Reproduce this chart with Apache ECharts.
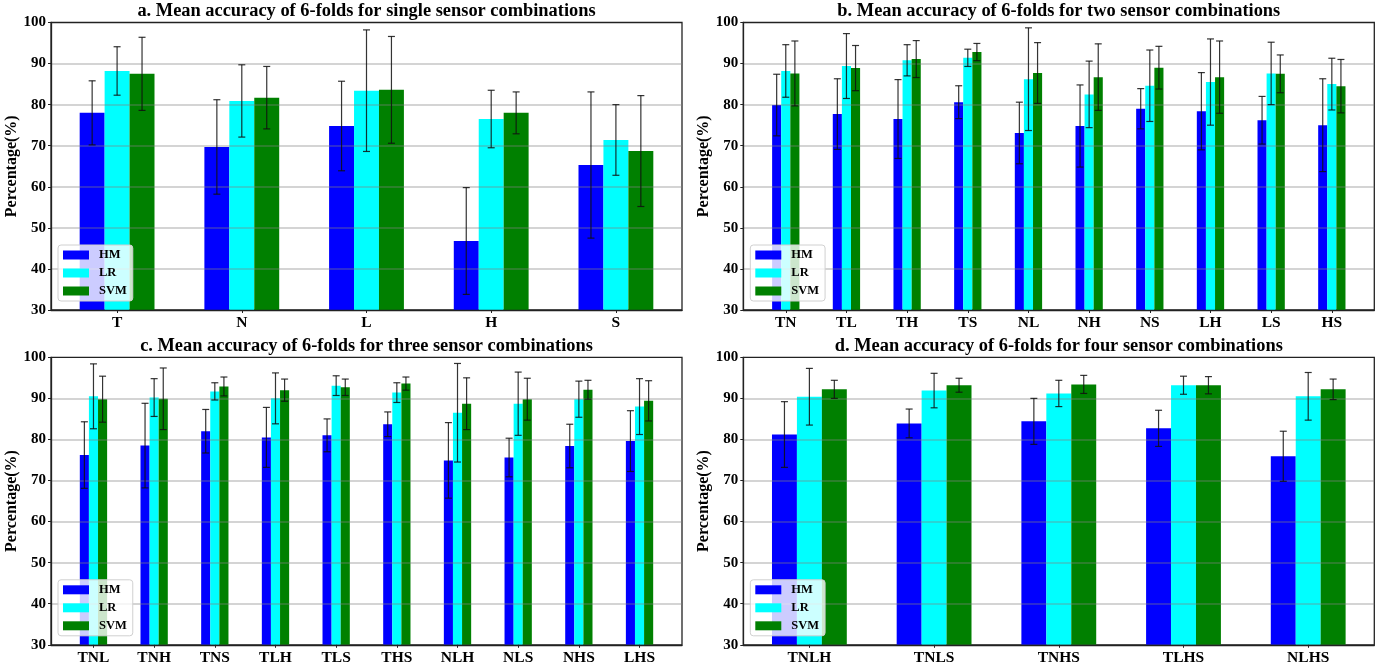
<!DOCTYPE html>
<html><head><meta charset="utf-8">
<script src="https://cdn.jsdelivr.net/npm/echarts@6/dist/echarts.min.js"></script>
<style>html,body{margin:0;padding:0;background:#fff}#c{width:1396px;height:666px}</style>
</head><body><div id="c"></div>
<script>
// ---- categories ----
const catsA = ['T', 'N', 'L', 'H', 'S'];
const catsB = ['TN', 'TL', 'TH', 'TS', 'NL', 'NH', 'NS', 'LH', 'LS', 'HS'];
const catsC = ['TNL', 'TNH', 'TNS', 'TLH', 'TLS', 'THS', 'NLH', 'NLS', 'NHS', 'LHS'];
const catsD = ['TNLH', 'TNLS', 'TNHS', 'TLHS', 'NLHS'];
const seriesNames = ['HM', 'LR', 'SVM'];
const yTicks = [30, 40, 50, 60, 70, 80, 90, 100];

// ---- panel a: single sensor ----
const hmA = [78.0, 69.7, 74.8, 46.8, 65.3];
const hmAErr = [7.8, 11.5, 10.9, 13.0, 17.8];
const lrA = [88.2, 80.9, 83.4, 76.5, 71.4];
const lrAErr = [5.9, 8.8, 14.8, 7.0, 8.6];
const svmA = [87.5, 81.7, 83.6, 78.0, 68.7];
const svmAErr = [8.9, 7.6, 13.0, 5.1, 13.5];

// ---- panel b: two sensors ----
const hmB = [79.9, 77.7, 76.5, 80.6, 73.1, 74.8, 79.0, 78.4, 76.2, 75.0];
const hmBErr = [7.5, 8.6, 9.6, 4.0, 7.5, 10.0, 4.9, 9.4, 5.8, 11.3];
const lrB = [88.2, 89.4, 90.8, 91.4, 86.2, 82.5, 84.6, 85.5, 87.6, 85.0];
const lrBErr = [6.4, 7.9, 3.8, 2.1, 12.5, 8.1, 8.7, 10.5, 7.6, 6.3];
const svmB = [87.6, 88.9, 91.1, 92.8, 87.7, 86.7, 89.0, 86.7, 87.5, 84.5];
const svmBErr = [7.9, 5.5, 4.5, 2.1, 7.4, 8.1, 5.2, 8.8, 4.6, 6.5];

// ---- panel c: three sensors ----
const hmC = [76.2, 78.5, 82.0, 80.5, 81.0, 83.7, 74.9, 75.6, 78.4, 79.6];
const hmCErr = [8.1, 10.3, 5.3, 7.3, 4.0, 3.0, 9.2, 4.7, 5.3, 7.4];
const lrC = [90.5, 90.2, 91.7, 90.0, 93.1, 91.4, 86.5, 88.7, 89.8, 88.0];
const lrCErr = [7.9, 4.6, 2.1, 6.2, 2.4, 2.4, 12.0, 7.7, 4.4, 6.8];
const svmC = [89.8, 89.9, 92.9, 92.0, 92.7, 93.6, 88.7, 89.8, 92.1, 89.4];
const svmCErr = [5.6, 7.5, 2.3, 2.7, 2.0, 1.6, 6.3, 5.1, 2.3, 4.9];

// ---- panel d: four sensors ----
const hmD = [81.2, 83.9, 84.4, 82.7, 75.9];
const hmDErr = [8.0, 3.5, 5.6, 4.4, 6.1];
const lrD = [90.4, 91.9, 91.2, 93.2, 90.5];
const lrDErr = [6.9, 4.2, 3.2, 2.2, 5.8];
const svmD = [92.2, 93.2, 93.4, 93.2, 92.2];
const svmDErr = [2.2, 1.7, 2.2, 2.1, 2.5];

const FONT = '"Liberation Serif","Times New Roman",Times,serif';
const COLORS = ['#0000ff', '#00ffff', '#008000'];

const panels = [
  { title: 'a. Mean accuracy of 6-folds for single sensor combinations', cats: catsA,
    vals: [hmA, lrA, svmA], errs: [hmAErr, lrAErr, svmAErr],
    grid: { left: 51, top: 22.5, width: 631, height: 287.5 }, xlim: [-0.53, 4.53], bw: 0.2 },
  { title: 'b. Mean accuracy of 6-folds for two sensor combinations', cats: catsB,
    vals: [hmB, lrB, svmB], errs: [hmBErr, lrBErr, svmBErr],
    grid: { left: 743.3, top: 22.5, width: 631, height: 287.5 }, xlim: [-0.7, 9.7], bw: 0.15 },
  { title: 'c. Mean accuracy of 6-folds for three sensor combinations', cats: catsC,
    vals: [hmC, lrC, svmC], errs: [hmCErr, lrCErr, svmCErr],
    grid: { left: 51, top: 357.3, width: 631, height: 287.5 }, xlim: [-0.7, 9.7], bw: 0.15 },
  { title: 'd. Mean accuracy of 6-folds for four sensor combinations', cats: catsD,
    vals: [hmD, lrD, svmD], errs: [hmDErr, lrDErr, svmDErr],
    grid: { left: 743.3, top: 357.3, width: 631, height: 287.5 }, xlim: [-0.53, 4.53], bw: 0.2 }
];

const option = { animation: false, title: [], grid: [], xAxis: [], yAxis: [], legend: [], series: [] };

panels.forEach((p, i) => {
  option.title.push({
    text: p.title, left: p.grid.left + p.grid.width / 2, top: p.grid.top - 20, textAlign: 'center', padding: 0,
    textStyle: { fontFamily: FONT, fontWeight: 'bold', fontSize: 18.4, color: '#000' }
  });
  option.grid.push(Object.assign({ show: true, borderColor: '#222', borderWidth: 1.3, backgroundColor: 'transparent' }, p.grid));
  const idx = p.cats.map((c, j) => j);
  option.xAxis.push({
    type: 'value', gridIndex: i, min: p.xlim[0], max: p.xlim[1], z: 3,
    axisLine: { show: true, onZero: false, lineStyle: { color: '#222', width: 1.3 } },
    axisTick: { show: true, length: 3, customValues: idx, lineStyle: { color: '#222' } },
    axisLabel: { customValues: idx, formatter: v => p.cats[Math.round(v)] || '', margin: 5,
      fontFamily: FONT, fontWeight: 'bold', fontSize: 15.5, color: '#000' },
    splitLine: { show: false }
  });
  option.yAxis.push({
    type: 'value', gridIndex: i, min: yTicks[0], max: yTicks[yTicks.length - 1], interval: 10, z: 3,
    name: 'Percentage(%)', nameLocation: 'middle', nameGap: 29,
    nameTextStyle: { fontFamily: FONT, fontWeight: 'bold', fontSize: 16, color: '#000' },
    axisLine: { show: true, onZero: false, lineStyle: { color: '#222', width: 1.3 } },
    axisTick: { show: true, length: 3, lineStyle: { color: '#222' } },
    axisLabel: { margin: 5, fontFamily: FONT, fontWeight: 'bold', fontSize: 15, color: '#000' },
    splitLine: { show: true, showMinLine: false, showMaxLine: false, lineStyle: { color: 'rgba(128,128,128,0.45)', width: 1.7 } }
  });
  option.legend.push({
    data: seriesNames, orient: 'vertical', left: p.grid.left + 7, top: p.grid.top + 222.5, z: 6,
    padding: [3, 6, 3, 5], itemWidth: 26, itemHeight: 9, itemGap: 4, icon: 'rect',
    backgroundColor: 'rgba(255,255,255,0.8)', borderColor: '#d0d0d0', borderWidth: 1, borderRadius: 3,
    textStyle: { fontFamily: FONT, fontWeight: 'bold', fontSize: 12.5, color: '#000', lineHeight: 14, padding: [0, 0, 0, 5] },
    selectedMode: false
  });
  seriesNames.forEach((n, k) => {
    option.series.push({
      type: 'bar', name: n, xAxisIndex: i, yAxisIndex: i, z: 2,
      barWidth: (p.bw * 100) + '%', barGap: '0%',
      itemStyle: { color: COLORS[k] },
      data: idx.map(j => [j, p.vals[k][j]])
    });
  });
  const errData = [];
  seriesNames.forEach((n, k) => idx.forEach(j => {
    errData.push([j, p.vals[k][j] - p.errs[k][j], p.vals[k][j] + p.errs[k][j], k]);
  }));
  option.series.push({
    type: 'custom', name: 'err' + i, xAxisIndex: i, yAxisIndex: i, z: 4,
    encode: { x: 0, y: [1, 2] },
    data: errData,
    renderItem: (params, api) => {
      const x = api.value(0) + (api.value(3) - 1) * p.bw;
      const lo = api.coord([x, api.value(1)]);
      const hi = api.coord([x, api.value(2)]);
      const cap = 3.5;
      const st = { stroke: '#111', lineWidth: 1.2, opacity: 0.85 };
      return { type: 'group', children: [
        { type: 'line', shape: { x1: lo[0], y1: lo[1], x2: hi[0], y2: hi[1] }, style: st },
        { type: 'line', shape: { x1: lo[0] - cap, y1: lo[1], x2: lo[0] + cap, y2: lo[1] }, style: st },
        { type: 'line', shape: { x1: hi[0] - cap, y1: hi[1], x2: hi[0] + cap, y2: hi[1] }, style: st }
      ] };
    }
  });
});

const chart = echarts.init(document.getElementById('c'));
chart.setOption(option);
</script>
</body></html>
